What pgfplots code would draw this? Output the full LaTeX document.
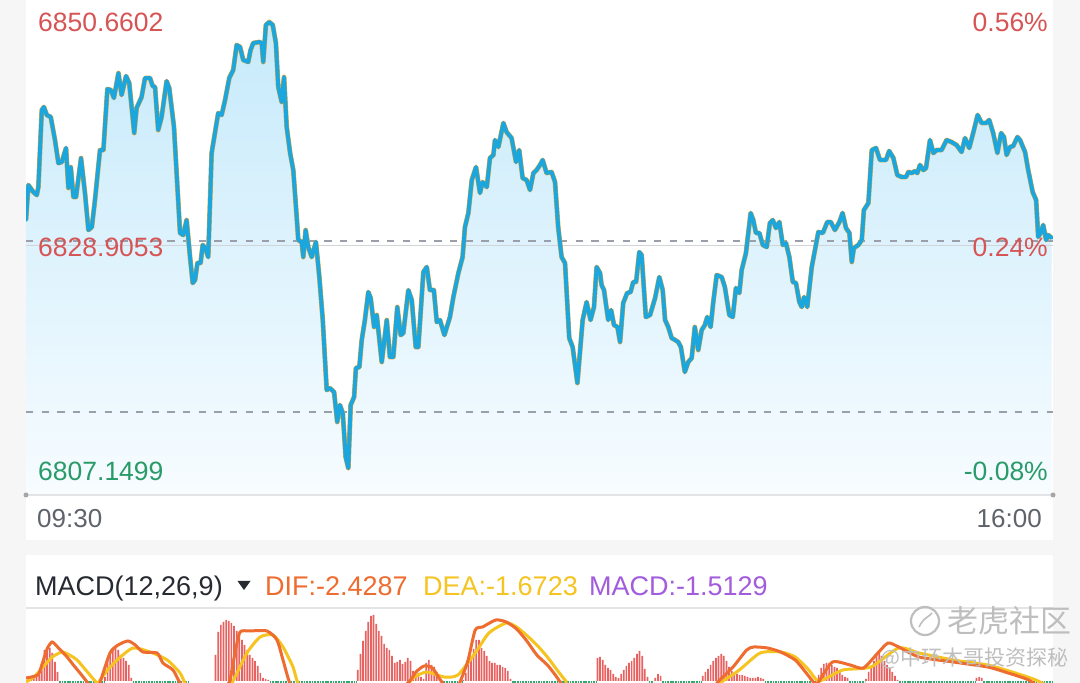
\documentclass[border=0pt]{standalone}
\usepackage{fontspec}
\setmainfont{Liberation Sans}
\newfontfamily\cjk{Noto Sans CJK SC}
\usepackage{pgfplots}
\usepackage{pgfplotstable}
\pgfplotsset{compat=1.18}
\definecolor{bgc}{RGB}{246,246,246}
\definecolor{upred}{RGB}{214,84,84}
\definecolor{dngreen}{RGB}{40,155,105}
\definecolor{timegray}{RGB}{95,99,106}
\definecolor{lineblue}{RGB}{27,166,221}
\definecolor{avgline}{RGB}{222,165,60}
\definecolor{fillTop}{RGB}{198,234,251}
\definecolor{fillBot}{RGB}{247,252,255}
\definecolor{dashgray}{RGB}{155,159,170}
\definecolor{midgray}{RGB}{210,212,218}
\definecolor{difc}{RGB}{238,108,48}
\definecolor{deac}{RGB}{245,196,32}
\definecolor{macdp}{RGB}{163,92,219}
\definecolor{titlec}{RGB}{40,42,50}
\definecolor{barred}{RGB}{232,98,98}
\definecolor{bargreen}{RGB}{50,170,110}
\definecolor{wm}{RGB}{190,190,190}
\definecolor{sepgray}{RGB}{226,228,232}
\newcommand\fs[1]{\fontsize{#1}{#1}\selectfont}

\pgfplotstableread{
t p
0 6831.34
0.9 6834.76
2.8 6834.07
4.1 6833.78
4.7 6834.56
6.0 6842.08
6.8 6842.37
7.9 6841.59
9.4 6841.39
11.0 6839.15
12.3 6836.90
13.6 6837.00
15.2 6838.37
16.1 6834.47
17.0 6836.51
18.0 6833.59
19.0 6833.59
20.9 6837.39
22.4 6833.98
23.7 6830.37
25.0 6830.66
26.2 6833.30
28.1 6838.17
29.4 6838.17
30.9 6844.12
32.2 6844.03
33.4 6843.25
35.1 6845.68
36.3 6843.54
38.0 6845.39
39.2 6844.71
41.1 6839.83
42.0 6842.27
43.9 6843.34
45.2 6845.20
47.1 6845.20
48.1 6844.42
49.0 6844.32
50.2 6840.12
51.5 6841.39
53.4 6844.90
54.4 6844.22
56.2 6840.42
58.5 6830.08
59.7 6829.88
61.0 6831.34
62.3 6827.73
63.3 6825.20
64.2 6825.49
65.1 6827.15
66.3 6827.15
67.1 6828.91
68.1 6828.61
69.2 6827.73
70.5 6837.88
73.0 6841.78
74.3 6841.59
75.6 6843.05
77.2 6845.20
78.7 6845.98
80.0 6848.42
81.3 6848.22
82.5 6846.95
84.4 6846.76
85.3 6847.93
86.3 6848.61
88.6 6848.71
89.5 6848.61
90.1 6846.76
91.1 6850.37
92.4 6850.66
93.7 6850.37
94.9 6848.61
95.8 6844.32
97.1 6842.86
98.0 6845.29
99.0 6840.42
100.3 6837.88
101.5 6836.22
102.8 6831.64
103.4 6829.39
104.7 6829.20
105.3 6827.73
106.2 6830.37
107.2 6828.71
108.5 6827.73
110.1 6829.20
111.4 6825.78
112.7 6821.59
114.2 6814.76
115.4 6814.95
117.0 6814.56
118.2 6811.64
119.2 6813.30
120.3 6812.52
121.4 6808.22
122.4 6807.15
123.3 6813.30
124.6 6814.08
125.3 6816.91
126.6 6817.00
127.5 6819.64
128.7 6821.59
130.0 6824.32
130.9 6823.73
132.2 6820.91
133.2 6822.08
135.1 6817.49
137.0 6821.59
138.2 6817.98
139.5 6817.98
141.0 6822.86
142.3 6820.12
143.3 6820.32
145.2 6824.51
146.5 6823.54
148.0 6818.95
149.0 6818.95
150.9 6826.27
152.2 6826.76
153.4 6824.51
154.9 6824.51
156.0 6821.39
157.2 6821.59
158.9 6820.12
161.0 6821.88
162.3 6823.83
164.2 6826.17
165.8 6827.73
166.7 6830.66
168.0 6832.03
169.3 6835.25
170.9 6836.51
172.4 6833.98
173.4 6835.05
175.0 6834.56
176.2 6837.39
177.5 6837.69
178.1 6839.15
179.4 6838.47
181.3 6840.81
182.5 6839.93
184.4 6839.34
186.1 6837.00
187.3 6838.17
188.6 6835.44
190.1 6835.25
191.4 6834.27
192.7 6835.93
193.9 6836.22
195.2 6836.71
196.2 6837.20
197.7 6835.93
199.6 6836.03
200.9 6835.05
202.1 6830.66
203.4 6827.73
204.7 6827.15
206.3 6819.83
207.6 6818.95
209.4 6815.44
211.4 6821.59
212.9 6823.34
214.4 6821.59
215.7 6822.86
216.7 6826.76
218.0 6826.17
218.6 6825.00
219.5 6824.51
221.1 6821.59
222.2 6822.56
223.3 6821.10
224.6 6820.91
225.6 6819.44
226.8 6823.25
228.3 6824.22
229.6 6824.32
230.6 6825.30
231.7 6825.30
232.9 6828.22
233.8 6827.93
235.4 6821.88
237.0 6822.08
238.9 6823.73
240.5 6825.78
241.8 6824.51
242.7 6821.59
243.9 6820.91
245.2 6819.83
246.5 6819.64
247.7 6819.44
248.7 6818.95
250.2 6816.52
251.5 6817.49
252.8 6817.88
254.0 6820.91
255.3 6818.66
256.6 6820.61
257.8 6821.10
258.7 6821.88
260.0 6820.91
261.0 6823.34
262.3 6825.98
264.2 6825.78
265.4 6824.81
267.1 6822.08
268.4 6821.88
269.6 6824.71
270.9 6824.22
271.8 6826.47
273.4 6828.12
275.2 6832.03
276.2 6831.34
277.2 6830.08
278.5 6830.08
279.8 6828.91
281.3 6828.71
282.5 6831.05
283.6 6831.34
284.8 6830.56
286.1 6831.15
287.4 6828.91
288.6 6829.10
289.9 6827.73
291.2 6825.30
292.4 6825.20
293.7 6823.34
294.6 6822.86
295.5 6823.83
296.7 6822.86
298.4 6826.76
300.9 6830.17
302.6 6830.08
304.3 6831.15
305.6 6831.15
307.2 6830.37
308.9 6831.15
310.1 6832.03
311.4 6830.56
312.7 6830.08
313.6 6827.25
314.4 6828.61
316.1 6828.91
317.4 6829.39
318.2 6832.32
319.9 6833.00
321.2 6838.17
322.8 6838.37
324.3 6837.20
326.6 6837.20
327.8 6838.08
329.4 6837.39
330.9 6835.73
332.6 6835.54
334.2 6835.54
335.1 6836.03
336.4 6835.93
337.6 6836.12
338.5 6835.93
339.5 6836.71
340.8 6836.22
341.8 6836.42
343.3 6839.15
344.6 6837.88
345.8 6838.17
347.7 6838.17
349.6 6839.15
351.5 6838.95
353.4 6838.66
355.3 6837.98
356.6 6839.34
358.2 6838.37
359.7 6839.83
361.4 6841.59
362.9 6840.81
364.6 6840.81
365.8 6841.10
367.3 6839.83
368.9 6837.88
370.3 6839.83
371.4 6839.44
372.4 6837.69
373.7 6838.47
374.9 6838.56
376.5 6839.44
377.5 6839.15
379.4 6837.98
380.6 6836.22
382.3 6834.07
383.6 6833.30
384.4 6829.69
385.3 6830.08
386.3 6830.86
387.4 6829.39
388.2 6829.88
389.5 6829.59
}\pricetab

\pgfplotstableread{
t h
1 0.3
2 0.4
3 0.5
4 0.5
5 0.6
6 1.3
7 3.1
8 3.4
9 3.3
10 2.8
11 1.9
12 0.9
30 0.4
31 2.1
32 2.9
33 3.3
34 3.4
35 3.1
36 2.6
37 2.3
38 2.0
39 1.6
40 0.3
72 2.6
73 4.9
74 5.6
75 5.9
76 6.1
77 6.0
78 5.8
79 5.5
80 5.0
81 4.5
82 4.1
83 3.6
84 3.1
85 2.6
86 2.3
87 2.0
88 1.5
89 0.8
90 0.3
91 0.2
92 0.1
126 1.1
127 2.7
128 4.0
129 5.0
130 5.9
131 6.5
132 6.6
133 5.7
134 5.0
135 4.5
136 3.7
137 3.3
138 3.1
139 2.5
140 1.8
141 1.9
142 2.1
143 1.7
144 1.9
145 2.3
146 2.0
147 1.0
148 0.4
149 0.8
150 0.4
151 0.2
152 1.8
153 2.1
154 1.6
155 1.4
156 0.9
157 0.2
166 0.1
167 0.8
168 1.7
169 2.4
170 3.2
171 4.1
172 4.1
173 3.3
174 3.0
175 2.5
176 2.0
177 1.8
178 1.8
179 1.6
180 1.6
181 1.4
182 1.3
183 1.0
184 0.2
217 2.3
218 2.4
219 2.1
220 1.6
221 1.3
222 1.1
223 0.7
224 0.4
225 0.3
226 0.7
227 1.1
228 1.5
229 1.8
230 2.0
231 2.3
232 2.7
233 3.0
234 2.5
235 1.2
236 0.4
239 0.3
240 0.7
241 0.5
257 0.5
258 0.9
259 1.2
260 1.6
261 2.0
262 2.3
263 2.5
264 2.7
265 2.5
266 2.0
267 1.4
268 1.0
269 0.8
270 0.7
271 0.6
272 0.6
273 0.5
274 0.4
275 0.3
276 0.3
277 0.3
278 0.4
279 0.3
280 0.2
301 0.6
302 1.3
303 1.7
304 1.8
305 1.8
306 1.6
307 1.4
308 1.3
309 0.9
310 0.6
311 0.4
312 0.3
319 0.2
320 0.9
321 1.4
322 2.0
323 2.5
324 2.8
325 2.5
326 2.0
327 1.6
328 1.3
329 0.9
330 0.5
331 0.1
361 0.3
362 0.4
363 0.3
}\histtab

\pgfplotstableread{
t v
0 0.3
4.5 0.6
6.0 1.6
8.0 3.2
9.9 3.9
12.0 3.4
15.6 2.4
18.0 1.6
20.5 0.8
23.5 -0.2
27.0 -1.5
28.1 -0.2
31.9 2.8
35.0 3.6
38.7 4.0
41.5 3.6
44.4 2.9
49.8 2.8
52.0 1.8
55.8 1.1
58.5 -0.2
62.0 -1.6
72.0 -1.8
76.0 -0.5
77.5 0.1
79.5 3.0
81.3 4.9
85.0 5.0
91.5 5.0
95.3 4.1
97.6 2.1
100.3 -0.3
104.0 -1.6
108.8 -2.4
134.6 -2.4
145.0 -0.2
148.1 0.9
151.2 1.5
154.3 1.3
157.4 0.1
160.5 -0.9
163.6 -0.7
165.6 0.4
167.9 2.1
170.6 5.1
173.4 5.4
178.4 6.1
182.4 5.9
186.3 5.2
190.2 4.0
194.0 2.6
198.0 1.6
201.0 0.6
204.0 -0.5
208.0 -1.6
214.0 -2.4
251.8 -2.4
260.1 -0.9
263.1 0.0
268.5 1.4
273.7 3.1
276.4 3.4
281.6 3.3
286.6 2.9
292.1 2.1
296.0 0.9
298.4 0.1
299.9 -0.3
301.2 0.0
306.3 1.9
313.0 1.6
318.0 1.3
323.5 2.8
327.4 3.8
331.4 3.4
339.2 2.4
352.1 1.9
365.2 1.4
373.0 0.8
380.8 0.1
386.1 -0.9
390 -1.8
}\diftab

\pgfplotstableread{
t v
0 -0.1
3.0 0.4
6.5 1.4
10.0 2.4
13.7 2.9
16.5 2.6
19.4 2.1
23.0 1.0
27.0 -0.2
28.1 0.1
31.0 1.1
34.6 2.1
40.6 3.3
47.1 2.9
53.6 2.1
58.5 0.8
60.4 -0.2
64.0 -1.4
75.0 -1.4
78.6 0.0
83.9 2.8
88.9 4.4
93.8 4.6
97.6 3.4
101.4 1.4
103.3 -0.2
107.8 -1.4
139.8 -1.4
147.0 0.3
152.2 0.9
158.8 0.4
164.0 0.6
170.6 2.8
175.8 4.8
182.4 5.8
186.3 5.4
190.0 4.6
194.0 3.6
198.0 2.4
202.0 1.0
205.0 0.0
209.0 -1.1
257.0 -1.1
264.6 0.0
270.9 1.1
278.8 2.8
286.6 2.9
292.1 2.4
297.3 1.1
301.2 0.0
310.2 1.1
320.8 1.4
331.4 3.3
339.2 2.8
352.1 2.1
365.2 1.6
375.7 0.8
383.5 0.1
390 -0.8
}\deatab

\begin{document}
\begin{tikzpicture}[x=1pt,y=1pt]
\useasboundingbox (0,0) rectangle (1080,683);
\fill[bgc] (0,0) rectangle (1080,683);
\fill[white] (26,143) rectangle (1053,683);
\fill[white] (26,0) rectangle (1053,128);

% ---------- price panel ----------
\begin{axis}[at={(26pt,188pt)}, anchor=south west, scale only axis,
  width=1027pt, height=495pt, xmin=0, xmax=390,
  ymin=6804.52, ymax=6852.81, hide axis, clip=true]
\addplot[draw=none, top color=fillTop, bottom color=fillBot] table[x=t,y=p] {\pricetab}
  -- (389.5,6804.52) -- (0,6804.52) -- cycle;
\addplot[midgray, line width=1pt] coordinates {(0,6828.9053) (390,6828.9053)};
\addplot[dashgray, line width=2.4pt, dash pattern=on 7.3pt off 8.4pt] coordinates {(0,6829.30) (390,6829.30)};
\addplot[dashgray, line width=2.4pt, dash pattern=on 7.3pt off 8.4pt] coordinates {(0,6812.61) (390,6812.61)};
\addplot[avgline, line width=4.8pt, line join=round] table[x=t,y=p] {\pricetab};
\addplot[lineblue, line width=3.9pt, line join=round, line cap=round] table[x=t,y=p] {\pricetab};
\end{axis}

\draw[sepgray, line width=1.5pt] (26,188) -- (1053,188);
\fill[gray!70] (26,188) circle (2.5);
\fill[gray!70] (1053,188) circle (2.5);

% price labels
\node[anchor=base west, inner sep=0, text=upred, font=\fs{26.5}] at (38,651) {6850.6602};
\node[anchor=base west, inner sep=0, text=upred, font=\fs{26.5}] at (38,426) {6828.9053};
\node[anchor=base west, inner sep=0, text=dngreen, font=\fs{26.5}] at (38,202) {6807.1499};
\node[anchor=base east, inner sep=0, text=upred, font=\fs{26.5}] at (1048,651) {0.56\%};
\node[anchor=base east, inner sep=0, text=upred, font=\fs{26.5}] at (1048,426) {0.24\%};
\node[anchor=base east, inner sep=0, text=dngreen, font=\fs{26.5}] at (1048,202) {-0.08\%};
\node[anchor=base west, inner sep=0, text=timegray, font=\fs{26}] at (37,155) {09:30};
\node[anchor=base east, inner sep=0, text=timegray, font=\fs{26}] at (1042,155) {16:00};

% MACD title row
\node[anchor=base west, inner sep=0, text=titlec, font=\fs{27}] at (35,87) {MACD(12,26,9)};
\fill[titlec] (237.5,102) -- (250.5,102) -- (244,93) -- cycle;
\node[anchor=base west, inner sep=0, text=difc, font=\fs{27}] at (265,87) {DIF:-2.4287};
\node[anchor=base west, inner sep=0, text=deac, font=\fs{27}] at (423,87) {DEA:-1.6723};
\node[anchor=base west, inner sep=0, text=macdp, font=\fs{27}] at (589,87) {MACD:-1.5129};
\draw[sepgray, line width=1.5pt] (26,75) -- (1053,75);

% ---------- MACD panel ----------
\begin{axis}[at={(26pt,0pt)}, anchor=south west, scale only axis,
  width=1027pt, height=73pt, xmin=0, xmax=390,
  ymin=-0.2, ymax=7.1, hide axis, clip=true]
\addplot[ybar, bar width=1.7pt, bar shift=0pt, fill=barred, draw=none] table[x=t,y=h] {\histtab};
\addplot[bargreen, line width=2pt, dash pattern=on 1.7pt off 0.93pt, unbounded coords=jump] coordinates {
(12.5,-0.1) (29.5,-0.1) (29.6,nan)
(40.5,-0.1) (61.5,-0.1) (61.6,nan)
(92.5,-0.1) (125.5,-0.1) (125.6,nan)
(157.5,-0.1) (165.5,-0.1) (165.6,nan)
(184.5,-0.1) (216.5,-0.1) (216.6,nan)
(236.5,-0.1) (238.5,-0.1) (238.6,nan)
(241.5,-0.1) (256.5,-0.1) (256.6,nan)
(280.5,-0.1) (300.5,-0.1) (300.6,nan)
(312.5,-0.1) (318.5,-0.1) (318.6,nan)
(331.5,-0.1) (360.5,-0.1) (360.6,nan)
(363.5,-0.1) (390,-0.1)};
\addplot[deac, line width=3pt, smooth, tension=0.4] table[x=t,y=v] {\deatab};
\addplot[difc, line width=3pt, smooth, tension=0.4] table[x=t,y=v] {\diftab};
\end{axis}

% watermark
\draw[wm, line width=2.2pt] (925,62) circle (14);
\draw[wm, line width=1.6pt] (919,56) .. controls (924,66) and (929,66) .. (932,70);
\node[anchor=west, inner sep=0, text=wm, font=\cjk\fs{31}] at (947,62) {老虎社区};
\node[anchor=west, inner sep=0, text=wm, font=\cjk\fs{21}] at (880,25) {@中环木哥投资探秘};
\end{tikzpicture}
\end{document}
